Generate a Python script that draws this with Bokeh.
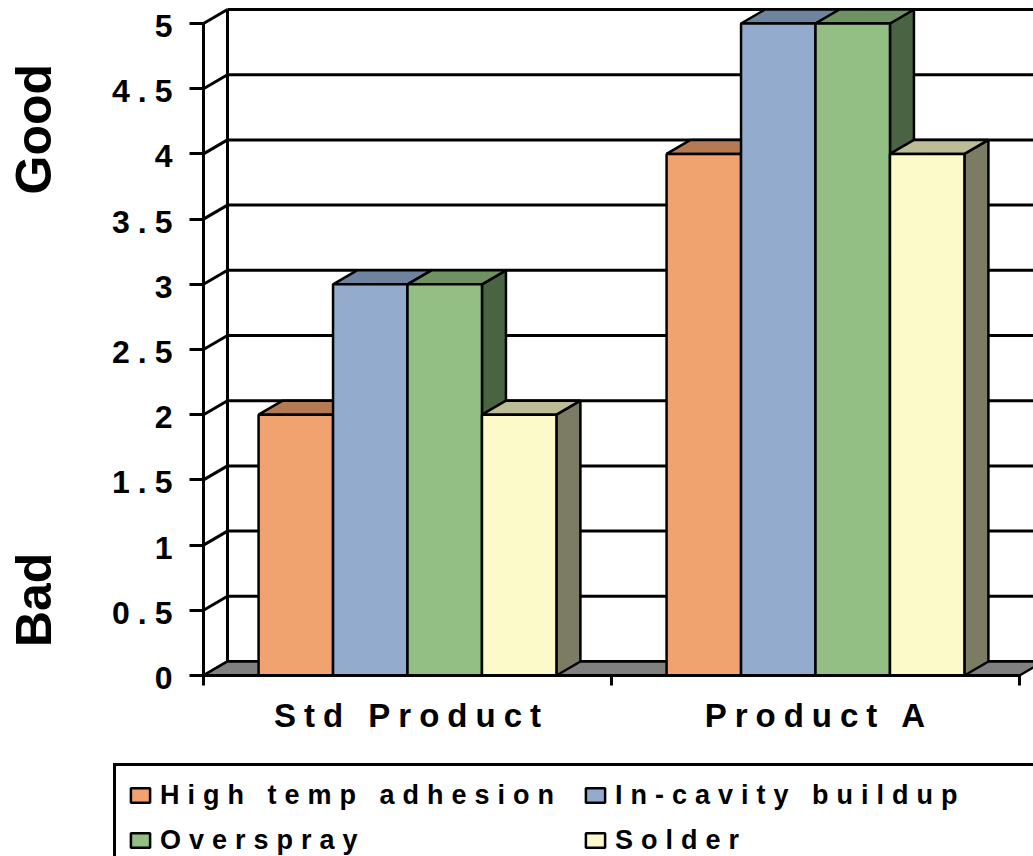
import math
from bokeh.plotting import figure
from bokeh.models import (Range1d, LinearAxis, FixedTicker, Legend, LegendItem,
                          ColumnDataSource, InlineStyleSheet)
from bokeh.layouts import row
from bokeh.core.properties import value
from bokeh.embed import file_html
from bokeh.resources import INLINE

# ---------------- data ----------------
categories = ["Std Product", "Product A"]
series_names = ["High temp adhesion", "In-cavity buildup", "Overspray", "Solder"]
high_temp_adhesion = [2, 4]
in_cavity_buildup = [3, 5]
overspray = [3, 5]
solder = [2, 4]
y_ticks = [0, 0.5, 1, 1.5, 2, 2.5, 3, 3.5, 4, 4.5, 5]
y_tick_labels = ["0", "0.5", "1", "1.5", "2", "2.5", "3", "3.5", "4", "4.5", "5"]
side_labels = ["Good", "Bad"]

series_values = [high_temp_adhesion, in_cavity_buildup, overspray, solder]

# ---------------- style ----------------
FRONT = ["#F0A36E", "#93ACCD", "#93BF85", "#FBFAC8"]
TOP = ["#B47A53", "#6E839D", "#6F9263", "#BCBC96"]
SIDE = ["#785237", "#495667", "#4A6342", "#7C7C64"]
FONT = "Liberation Sans"
LS = 8                          # letter spacing (px) of the spaced-out chart texts
DX, DY = 0.0588, 0.1074        # depth offset of the 3-D effect
GROUP = 0.73                    # group width in category units
BW = GROUP / len(series_names)
LW = 2.5

y_range = Range1d(-1.3880, 5.1764)

p = figure(width=965, height=856, x_range=Range1d(-0.33088, 2.03431), y_range=y_range,
           x_axis_location=None, y_axis_location=None, output_backend="svg",
           toolbar_location=None, min_border=0)
p.outline_line_color = None
p.grid.visible = False
p.stylesheets = [InlineStyleSheet(css=":host { letter-spacing: %dpx; }" % LS)]

n_cat = len(categories)

# walls: back wall grid lines, back-left edge, left side wall diagonals
p.segment(x0=[DX] * len(y_ticks), y0=[v + DY for v in y_ticks],
          x1=[n_cat + DX] * len(y_ticks), y1=[v + DY for v in y_ticks],
          line_color="black", line_width=3)
p.segment(x0=[DX], y0=[DY], x1=[DX], y1=[y_ticks[-1] + DY], line_color="black", line_width=3)
p.segment(x0=[0] * len(y_ticks), y0=y_ticks, x1=[DX] * len(y_ticks),
          y1=[v + DY for v in y_ticks], line_color="black", line_width=3)

# floor
p.patch(x=[0, n_cat, n_cat + DX, DX], y=[0, 0, DY, DY], fill_color="#808080",
        line_color="black", line_width=LW)

# bars
fl, fr, fb, ft, fc = [], [], [], [], []
side_xs, side_ys, side_c = [], [], []
top_xs, top_ys, top_c = [], [], []
for ci in range(n_cat):
    for si, vals in enumerate(series_values):
        v = vals[ci]
        x0 = ci + 0.5 - GROUP / 2 + si * BW
        x1 = x0 + BW
        fl.append(x0); fr.append(x1); fb.append(0); ft.append(v); fc.append(FRONT[si])
        side_xs.append([x1, x1 + DX, x1 + DX, x1]); side_ys.append([0, DY, v + DY, v])
        side_c.append(SIDE[si])
        top_xs.append([x0, x1, x1 + DX, x0 + DX]); top_ys.append([v, v, v + DY, v + DY])
        top_c.append(TOP[si])

p.patches(xs="xs", ys="ys", fill_color="c", line_color="black", line_width=LW,
          source=ColumnDataSource(dict(xs=side_xs, ys=side_ys, c=side_c)))
p.patches(xs="xs", ys="ys", fill_color="c", line_color="black", line_width=LW,
          source=ColumnDataSource(dict(xs=top_xs, ys=top_ys, c=top_c)))
front = p.quad(left="l", right="r", bottom="b", top="t", fill_color="c",
               line_color="black", line_width=LW,
               source=ColumnDataSource(dict(l=fl, r=fr, b=fb, t=ft, c=fc)))

# y axis (line + ticks)
yax = LinearAxis(fixed_location=0, bounds=(0, 5),
                 ticker=FixedTicker(ticks=[], minor_ticks=y_ticks))
yax.axis_line_width = 3
yax.minor_tick_line_width = 3
yax.minor_tick_out = 14
yax.minor_tick_in = 0
yax.major_tick_line_color = None
p.add_layout(yax, "left")

# y tick labels (right aligned, compensating the letter spacing)
p.text(x="x", y="y", text="t", x_offset="xo", source=ColumnDataSource(dict(
    x=[0] * len(y_ticks), y=y_ticks, t=y_tick_labels,
    xo=[-31 - (len(s) - 1) * LS for s in y_tick_labels])),
    text_align="right", text_baseline="alphabetic", y_offset=2.5,
    text_font=value(FONT), text_font_size="32px", text_font_style="bold",
    text_color="black")

# x axis (line + ticks)
xax = LinearAxis(fixed_location=0, bounds=(0, n_cat),
                 ticker=FixedTicker(ticks=[], minor_ticks=list(range(n_cat + 1))))
xax.axis_line_width = 3
xax.major_tick_line_color = None
xax.minor_tick_line_width = 3
xax.minor_tick_out = 10
xax.minor_tick_in = 0
p.add_layout(xax, "below")

# category labels
p.text(x="x", y="y", text="t", x_offset="xo", source=ColumnDataSource(dict(
    x=[i + 0.5 for i in range(n_cat)], y=[0] * n_cat, t=categories,
    xo=[-(len(s) - 1) * LS / 2 for s in categories])),
    text_align="center", text_baseline="alphabetic", y_offset=40,
    text_font=value(FONT), text_font_size="33px", text_font_style="bold",
    text_color="black")

# legend
items = [LegendItem(label=name, renderers=[front], index=si) for si, name in enumerate(series_names)]
legend = Legend(items=items, orientation="horizontal", ncols=2, location=(45, -16),
                margin=0, padding=12, spacing=11, glyph_width=24, glyph_height=18,
                label_standoff=8, label_width=412, label_height=34,
                label_text_font=FONT, label_text_font_size="27px",
                label_text_font_style="bold", label_text_color="black",
                border_line_color="black", border_line_width=3, border_line_alpha=1.0,
                background_fill_color="white", background_fill_alpha=1.0)
p.add_layout(legend)

# left strip with Good / Bad
q = figure(width=68, height=856, x_range=Range1d(0, 68), y_range=y_range,
           x_axis_location=None, y_axis_location=None, output_backend="svg",
           toolbar_location=None, min_border=0)
q.outline_line_color = None
q.grid.visible = False
q.text(x=[33, 33], y=[4.19, 0.58], text=side_labels, angle=math.pi / 2,
       text_align="center", text_baseline="middle", text_font=value(FONT),
       text_font_size="50px", text_font_style="bold", text_color="black")

layout = row(q, p)
open("out.html", "w").write(file_html(layout, INLINE))
